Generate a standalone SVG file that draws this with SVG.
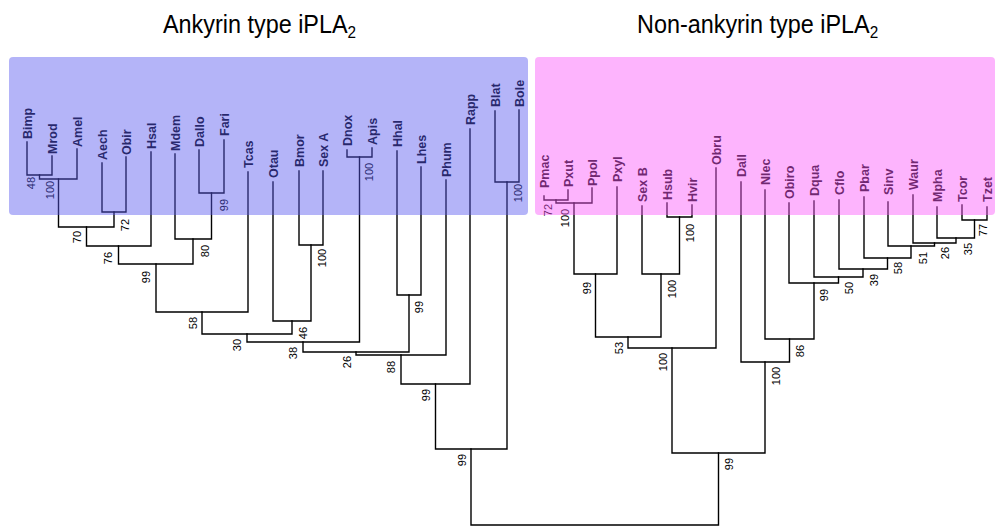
<svg xmlns="http://www.w3.org/2000/svg" width="1000" height="530" viewBox="0 0 1000 530">
<style>
.ln{fill:none;stroke:#000;stroke-width:1.4;stroke-linejoin:miter;stroke-linecap:square}
.lf{font-family:"Liberation Sans",Arial,sans-serif;font-size:12.5px;font-weight:bold;fill:#000}
.bs{font-family:"Liberation Sans",Arial,sans-serif;font-size:11px;fill:#000;text-anchor:middle}
.tt{font-family:"Liberation Sans",Arial,sans-serif;font-size:26px;fill:#000}
.ovb{fill:#5858ef;fill-opacity:0.45}
.ovp{fill:#fb58fb;fill-opacity:0.45}
</style>
<rect width="1000" height="530" fill="#fff"/>
<g id="titles">
<text class="tt" transform="translate(163,33) scale(0.9,1)">Ankyrin type iPLA<tspan font-size="17" dy="5">2</tspan></text>
<text class="tt" transform="translate(637,33) scale(0.9,1)">Non-ankyrin type iPLA<tspan font-size="17" dy="5">2</tspan></text>
</g>
<g id="connectors" class="ln">
<path d="M27 142V175H52V156"/>
<path d="M39.5 175V179H77V149"/>
<path d="M102 163V212H126V157"/>
<path d="M58.5 179V227H114V212"/>
<path d="M86.5 227V246H151V152"/>
<path d="M199 150V193H224V140"/>
<path d="M175 154V239H211.5V193"/>
<path d="M118.5 246V264H193V239"/>
<path d="M156 264V312H248V172"/>
<path d="M299 171V245H323V171"/>
<path d="M273 182V321H311V245"/>
<path d="M202 312V334H292V321"/>
<path d="M347 150V157H372V148"/>
<path d="M247 334V342H359.5V157"/>
<path d="M397 151V295H421V167"/>
<path d="M303 342V352H409V295"/>
<path d="M356 352V355H446V180"/>
<path d="M401 355V384H470V129"/>
<path d="M495 111V182H519V110"/>
<path d="M435.5 384V449H507V182"/>
<path d="M471 449V525H718.5V453"/>
<path d="M544 196V200H568V190"/>
<path d="M556 200V203H592V188"/>
<path d="M574 203V274H617V187"/>
<path d="M667 203V217H692V205"/>
<path d="M642 206V274H679.5V217"/>
<path d="M595.5 274V337H661V274"/>
<path d="M628 337V348H716V168"/>
<path d="M962 205V220H987V207"/>
<path d="M937 207V238H974.5V220"/>
<path d="M913 195V243H956V238"/>
<path d="M888 202V246H934.5V243"/>
<path d="M864 197V258H911V246"/>
<path d="M839 200V269H887.5V258"/>
<path d="M814 201V277H863V269"/>
<path d="M789 203V283H838.5V277"/>
<path d="M765 190V339H814V283"/>
<path d="M741 182V362H789.5V339"/>
<path d="M672 348V453H765V362"/>
</g>
<g id="leaves-ankyrin">
<g id="leaf-Bimp"><text class="lf" transform="translate(31.5,139) rotate(-90)">Bimp</text></g>
<g id="leaf-Mrod"><text class="lf" transform="translate(56.5,154) rotate(-90)">Mrod</text></g>
<g id="leaf-Amel"><text class="lf" transform="translate(81.5,147) rotate(-90)">Amel</text></g>
<g id="leaf-Aech"><text class="lf" transform="translate(106.5,160) rotate(-90)">Aech</text></g>
<g id="leaf-Obir"><text class="lf" transform="translate(130.5,155) rotate(-90)">Obir</text></g>
<g id="leaf-Hsal"><text class="lf" transform="translate(155.5,149) rotate(-90)">Hsal</text></g>
<g id="leaf-Mdem"><text class="lf" transform="translate(179.5,151) rotate(-90)">Mdem</text></g>
<g id="leaf-Dallo"><text class="lf" transform="translate(203.5,147) rotate(-90)">Dallo</text></g>
<g id="leaf-Fari"><text class="lf" transform="translate(228.5,136) rotate(-90)">Fari</text></g>
<g id="leaf-Tcas"><text class="lf" transform="translate(252.5,168) rotate(-90)">Tcas</text></g>
<g id="leaf-Otau"><text class="lf" transform="translate(277.5,178) rotate(-90)">Otau</text></g>
<g id="leaf-Bmor"><text class="lf" transform="translate(303.5,167) rotate(-90)">Bmor</text></g>
<g id="leaf-SexA"><text class="lf" transform="translate(327.5,167) rotate(-90)">Sex A</text></g>
<g id="leaf-Dnox"><text class="lf" transform="translate(351.5,146) rotate(-90)">Dnox</text></g>
<g id="leaf-Apis"><text class="lf" transform="translate(376.5,145) rotate(-90)">Apis</text></g>
<g id="leaf-Hhal"><text class="lf" transform="translate(401.5,147) rotate(-90)">Hhal</text></g>
<g id="leaf-Lhes"><text class="lf" transform="translate(425.5,164) rotate(-90)">Lhes</text></g>
<g id="leaf-Phum"><text class="lf" transform="translate(450.5,177) rotate(-90)">Phum</text></g>
<g id="leaf-Rapp"><text class="lf" transform="translate(474.5,125) rotate(-90)">Rapp</text></g>
<g id="leaf-Blat"><text class="lf" transform="translate(499.5,107) rotate(-90)">Blat</text></g>
<g id="leaf-Bole"><text class="lf" transform="translate(523.5,107) rotate(-90)">Bole</text></g>
</g>
<g id="leaves-nonankyrin">
<g id="leaf-Pmac"><text class="lf" transform="translate(548.5,188) rotate(-90)">Pmac</text></g>
<g id="leaf-Pxut"><text class="lf" transform="translate(572.5,187) rotate(-90)">Pxut</text></g>
<g id="leaf-Ppol"><text class="lf" transform="translate(596.5,186) rotate(-90)">Ppol</text></g>
<g id="leaf-Pxyl"><text class="lf" transform="translate(621.5,182) rotate(-90)">Pxyl</text></g>
<g id="leaf-SexB"><text class="lf" transform="translate(646.5,202) rotate(-90)">Sex B</text></g>
<g id="leaf-Hsub"><text class="lf" transform="translate(671.5,200) rotate(-90)">Hsub</text></g>
<g id="leaf-Hvir"><text class="lf" transform="translate(696.5,202) rotate(-90)">Hvir</text></g>
<g id="leaf-Obru"><text class="lf" transform="translate(720.5,165) rotate(-90)">Obru</text></g>
<g id="leaf-Dall"><text class="lf" transform="translate(745.5,177) rotate(-90)">Dall</text></g>
<g id="leaf-Nlec"><text class="lf" transform="translate(769.5,185) rotate(-90)">Nlec</text></g>
<g id="leaf-Obiro"><text class="lf" transform="translate(793.5,199) rotate(-90)">Obiro</text></g>
<g id="leaf-Dqua"><text class="lf" transform="translate(818.5,196) rotate(-90)">Dqua</text></g>
<g id="leaf-Cflo"><text class="lf" transform="translate(843.5,195) rotate(-90)">Cflo</text></g>
<g id="leaf-Pbar"><text class="lf" transform="translate(868.5,192) rotate(-90)">Pbar</text></g>
<g id="leaf-Sinv"><text class="lf" transform="translate(892.5,195) rotate(-90)">Sinv</text></g>
<g id="leaf-Waur"><text class="lf" transform="translate(917.5,190) rotate(-90)">Waur</text></g>
<g id="leaf-Mpha"><text class="lf" transform="translate(941.5,202) rotate(-90)">Mpha</text></g>
<g id="leaf-Tcor"><text class="lf" transform="translate(966.5,202) rotate(-90)">Tcor</text></g>
<g id="leaf-Tzet"><text class="lf" transform="translate(991.5,202) rotate(-90)">Tzet</text></g>
</g>
<g id="support-values">
<g id="n1"><text class="bs" transform="translate(35,183) rotate(-90)">48</text></g>
<g id="n2"><text class="bs" transform="translate(54,190) rotate(-90)">100</text></g>
<g id="n3"><text class="bs" transform="translate(129,225) rotate(-90)">72</text></g>
<g id="n4"><text class="bs" transform="translate(81,237) rotate(-90)">70</text></g>
<g id="n5"><text class="bs" transform="translate(112,258) rotate(-90)">76</text></g>
<g id="n6"><text class="bs" transform="translate(228,205) rotate(-90)">99</text></g>
<g id="n7"><text class="bs" transform="translate(209,251) rotate(-90)">80</text></g>
<g id="n8"><text class="bs" transform="translate(150,277) rotate(-90)">99</text></g>
<g id="n9"><text class="bs" transform="translate(197,323) rotate(-90)">58</text></g>
<g id="n10"><text class="bs" transform="translate(326,258) rotate(-90)">100</text></g>
<g id="n11"><text class="bs" transform="translate(307,333) rotate(-90)">46</text></g>
<g id="n12"><text class="bs" transform="translate(241,345) rotate(-90)">30</text></g>
<g id="n13"><text class="bs" transform="translate(373,172) rotate(-90)">100</text></g>
<g id="n14"><text class="bs" transform="translate(297,353) rotate(-90)">38</text></g>
<g id="n15"><text class="bs" transform="translate(423,307) rotate(-90)">99</text></g>
<g id="n16"><text class="bs" transform="translate(351,362) rotate(-90)">26</text></g>
<g id="n17"><text class="bs" transform="translate(395,367) rotate(-90)">88</text></g>
<g id="n18"><text class="bs" transform="translate(430,395) rotate(-90)">99</text></g>
<g id="n19"><text class="bs" transform="translate(522,193) rotate(-90)">100</text></g>
<g id="n20"><text class="bs" transform="translate(466,460) rotate(-90)">99</text></g>
<g id="m1"><text class="bs" transform="translate(552,210) rotate(-90)">72</text></g>
<g id="m2"><text class="bs" transform="translate(569,218) rotate(-90)">100</text></g>
<g id="m3"><text class="bs" transform="translate(591,288) rotate(-90)">99</text></g>
<g id="m4"><text class="bs" transform="translate(694,233) rotate(-90)">100</text></g>
<g id="m5"><text class="bs" transform="translate(676,289) rotate(-90)">100</text></g>
<g id="m6"><text class="bs" transform="translate(623,348) rotate(-90)">53</text></g>
<g id="m7"><text class="bs" transform="translate(667,362) rotate(-90)">100</text></g>
<g id="r1"><text class="bs" transform="translate(987,230) rotate(-90)">77</text></g>
<g id="r2"><text class="bs" transform="translate(972,249) rotate(-90)">35</text></g>
<g id="r3"><text class="bs" transform="translate(949,253) rotate(-90)">26</text></g>
<g id="r4"><text class="bs" transform="translate(927,258) rotate(-90)">51</text></g>
<g id="r5"><text class="bs" transform="translate(902,268) rotate(-90)">58</text></g>
<g id="r6"><text class="bs" transform="translate(878,280) rotate(-90)">39</text></g>
<g id="r7"><text class="bs" transform="translate(853,288) rotate(-90)">50</text></g>
<g id="r8"><text class="bs" transform="translate(828,295) rotate(-90)">99</text></g>
<g id="r9"><text class="bs" transform="translate(804,351) rotate(-90)">86</text></g>
<g id="r10"><text class="bs" transform="translate(780,376) rotate(-90)">100</text></g>
<g id="r11"><text class="bs" transform="translate(733,464) rotate(-90)">99</text></g>
</g>
<g id="clade-boxes">
<rect id="box-ankyrin" class="ovb" x="9" y="57" width="519" height="158" rx="4"/>
<rect id="box-nonankyrin" class="ovp" x="535" y="57" width="460" height="158" rx="4"/>
</g>
</svg>
